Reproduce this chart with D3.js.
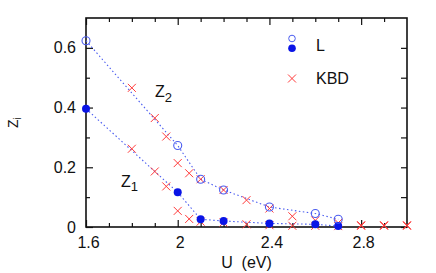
<!DOCTYPE html>
<html>
<head>
<meta charset="utf-8">
<script src="https://cdn.jsdelivr.net/npm/d3@7/dist/d3.min.js"></script>
<style>
  body { margin: 0; background: #fff; }
  text { font-family: "Liberation Sans", Arial, sans-serif; fill: #111; }
</style>
</head>
<body>
<div id="chart"></div>
<script>
// L results (circles): Z2 open, Z1 filled
var uL = [1.6, 2.0, 2.1, 2.2, 2.4, 2.6, 2.7];
var z2L = [0.624, 0.273, 0.160, 0.124, 0.067, 0.045, 0.026];
var z1L = [0.396, 0.116, 0.026, 0.020, 0.012, 0.009, 0.003];

// KBD results (crosses)
var uK = [1.8, 1.9, 1.95, 2.0, 2.05, 2.1, 2.2, 2.3, 2.4, 2.5, 2.6, 2.7, 2.8, 2.9, 3.0];
var z2K = [0.466, 0.365, 0.303, 0.214, 0.180, 0.160, 0.124, 0.090, 0.062, 0.036, 0.022, 0.014, 0.006, 0.006, 0.006];
var z1K = [0.262, 0.186, 0.136, 0.054, 0.027, 0.018, 0.015, 0.009, 0.006, 0.004, 0.004, 0.003, 0.004, 0.004, 0.004];

var xMajor = [1.6, 2.0, 2.4, 2.8];
var xMinor = [1.7, 1.8, 1.9, 2.1, 2.2, 2.3, 2.5, 2.6, 2.7, 2.9];
var yMajor = [0, 0.2, 0.4, 0.6];
var yMinor = [0.1, 0.3, 0.5];

var W = 436, H = 273;
var pl = 86, pr = 407, pt = 18, pb = 227;
var fs = 16;

var svg = d3.select("#chart").append("svg").attr("width", W).attr("height", H);

var x = d3.scaleLinear().domain([1.6, 3.0]).range([pl, pr]);
var y = d3.scaleLinear().domain([0, 0.7]).range([pb, pt]);

function noDomain(g) { g.select(".domain").remove(); g.selectAll("line").attr("stroke", "#111").attr("stroke-width", 1.2); }

// ticks, all pointing inwards
svg.append("g").attr("transform", "translate(0," + pb + ")")
  .call(d3.axisBottom(x).tickValues(xMajor).tickSizeInner(-7).tickSizeOuter(0).tickPadding(10).tickFormat(d3.format("")))
  .call(noDomain)
  .call(g => g.selectAll("text").attr("font-size", fs).attr("dx", 2).style("font-family", "Liberation Sans, Arial, sans-serif").attr("fill", "#111"));
svg.append("g").attr("transform", "translate(0," + pb + ")")
  .call(d3.axisBottom(x).tickValues(xMinor).tickSizeInner(-4).tickSizeOuter(0).tickFormat(""))
  .call(noDomain);
svg.append("g").attr("transform", "translate(0," + pt + ")")
  .call(d3.axisTop(x).tickValues(xMajor).tickSizeInner(-7).tickSizeOuter(0).tickFormat(""))
  .call(noDomain);
svg.append("g").attr("transform", "translate(0," + pt + ")")
  .call(d3.axisTop(x).tickValues(xMinor).tickSizeInner(-4).tickSizeOuter(0).tickFormat(""))
  .call(noDomain);

svg.append("g").attr("transform", "translate(" + pl + ",0)")
  .call(d3.axisLeft(y).tickValues(yMajor).tickSizeInner(-7).tickSizeOuter(0).tickPadding(10).tickFormat(d3.format("")))
  .call(noDomain)
  .call(g => g.selectAll("text").attr("font-size", fs).style("font-family", "Liberation Sans, Arial, sans-serif").attr("fill", "#111"));
svg.append("g").attr("transform", "translate(" + pl + ",0)")
  .call(d3.axisLeft(y).tickValues(yMinor).tickSizeInner(-4).tickSizeOuter(0).tickFormat(""))
  .call(noDomain);
svg.append("g").attr("transform", "translate(" + pr + ",0)")
  .call(d3.axisRight(y).tickValues(yMajor.concat(yMinor)).tickSizeInner(-6).tickSizeOuter(0).tickFormat(""))
  .call(noDomain);

// frame
svg.append("rect").attr("x", pl).attr("y", pt).attr("width", pr - pl).attr("height", pb - pt)
  .attr("fill", "none").attr("stroke", "#111").attr("stroke-width", 1.6);

// dotted guide lines through L points
var line = d3.line().x(d => x(d[0])).y(d => y(d[1]));
[z2L, z1L].forEach(function(s) {
  svg.append("path").datum(uL.map((u, i) => [u, s[i]]))
    .attr("d", line).attr("fill", "none")
    .attr("stroke", "#4a5cf0").attr("stroke-width", 1.1).attr("stroke-dasharray", "1.5,2.5");
});

// KBD crosses
var red = "#ff3a3a";
function cross(g, cx, cy, s) {
  g.append("path")
    .attr("d", "M" + (cx - s) + "," + (cy - s) + "L" + (cx + s) + "," + (cy + s) + "M" + (cx - s) + "," + (cy + s) + "L" + (cx + s) + "," + (cy - s))
    .attr("stroke", red).attr("stroke-width", 1).attr("fill", "none");
}
var gk = svg.append("g");
[z2K, z1K].forEach(function(s) {
  uK.forEach(function(u, i) { cross(gk, x(u), y(s[i]), 4); });
});

// L circles
svg.append("g").selectAll("circle").data(uL).enter().append("circle")
  .attr("cx", d => x(d)).attr("cy", (d, i) => y(z1L[i])).attr("r", 4)
  .attr("fill", "#0a14e6");
svg.append("g").selectAll("circle").data(uL).enter().append("circle")
  .attr("cx", d => x(d)).attr("cy", (d, i) => y(z2L[i])).attr("r", 4)
  .attr("fill", "none").attr("stroke", "#4a5cf0").attr("stroke-width", 1.1);

// curve labels
var lz2 = svg.append("text").attr("x", 155).attr("y", 97).attr("font-size", fs);
lz2.append("tspan").text("Z");
lz2.append("tspan").attr("dy", 5).attr("font-size", 13).text("2");
var lz1 = svg.append("text").attr("x", 121).attr("y", 187).attr("font-size", fs);
lz1.append("tspan").text("Z");
lz1.append("tspan").attr("dy", 4).attr("font-size", 13).text("1");

// legend
svg.append("circle").attr("cx", 292).attr("cy", 38.5).attr("r", 3.3)
  .attr("fill", "none").attr("stroke", "#4a5cf0").attr("stroke-width", 1);
svg.append("circle").attr("cx", 292).attr("cy", 48.3).attr("r", 3.8).attr("fill", "#0a14e6");
svg.append("text").attr("x", 316).attr("y", 51).attr("font-size", fs).text("L");
cross(svg, 292, 78.5, 4);
svg.append("text").attr("x", 316).attr("y", 84).attr("font-size", fs).text("KBD");

// axis titles
svg.append("text").attr("x", x(2.3)).attr("y", 268).attr("font-size", fs)
  .attr("text-anchor", "middle").style("white-space", "pre").text("U  (eV)");
var yl = svg.append("text").attr("transform", "translate(18,128) rotate(-90)").attr("font-size", 14);
yl.append("tspan").text("Z");
yl.append("tspan").attr("dy", 3).attr("font-size", 10).text("i");
</script>
</body>
</html>
